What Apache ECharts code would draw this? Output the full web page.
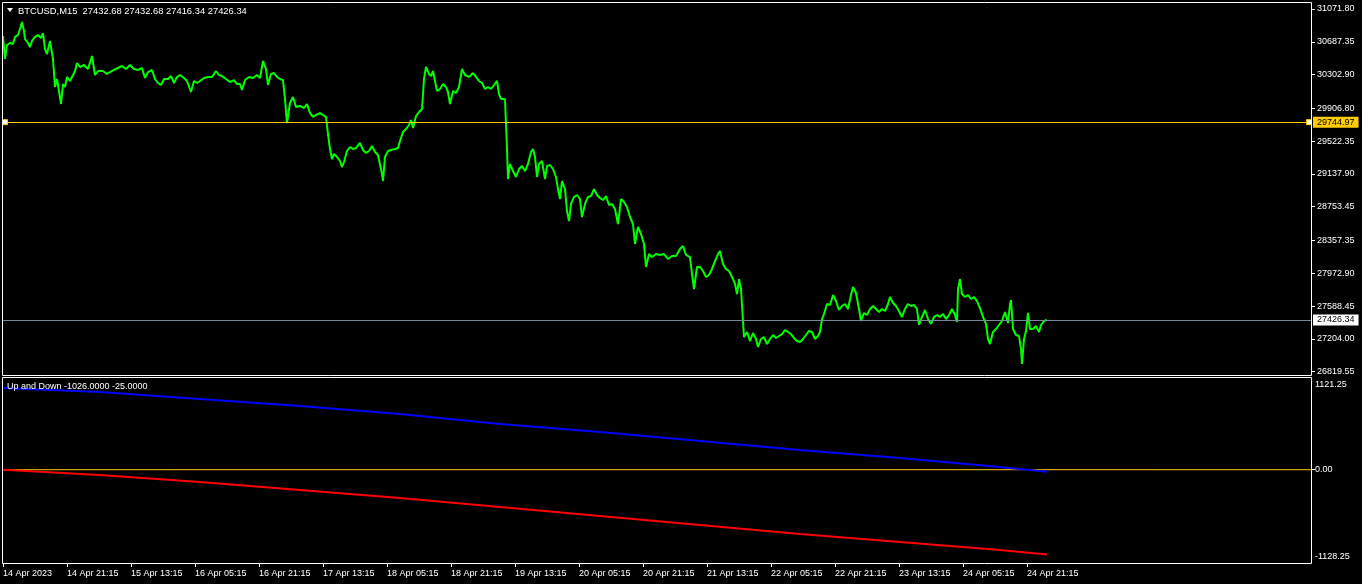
<!DOCTYPE html>
<html>
<head>
<meta charset="utf-8">
<script src="https://cdn.jsdelivr.net/npm/echarts@6/dist/echarts.min.js"></script>
<style>
html,body{margin:0;padding:0;background:#000;}
#c{width:1362px;height:584px;}
</style>
</head>
<body>
<div id="c"></div>
<script>
// ---- data ----
const symbolName = 'BTCUSD,M15';
const lastQuote = [27432.68, 27432.68, 27416.34, 27426.34];
const timeLabels = ['14 Apr 2023','14 Apr 21:15','15 Apr 13:15','16 Apr 05:15','16 Apr 21:15','17 Apr 13:15','18 Apr 05:15','18 Apr 21:15','19 Apr 13:15','20 Apr 05:15','20 Apr 21:15','21 Apr 13:15','22 Apr 05:15','22 Apr 21:15','23 Apr 13:15','24 Apr 05:15','24 Apr 21:15'];
const barsPerLabel = 64;
const priceTicks = [31071.80, 30687.35, 30302.90, 29906.80, 29522.35, 29137.90, 28753.45, 28357.35, 27972.90, 27588.45, 27204.00, 26819.55];
const indTicks = [1121.25, 0, -1128.25];
const hLineLevel = 29744.97;
const bidLevel = 27426.34;
const indLevel = 0;

const barIndex = [0,2,4,7,10,12,15,17,19,21,22,25,27,29,32,35,38,40,42,44,47,50,52,54,56,58,60,62,64,67,70,72,74,77,81,85,89,92,95,100,104,107,111,115,119,123,127,131,135,139,142,145,149,152,155,158,161,165,168,171,174,177,181,184,188,191,194,197,201,205,209,213,216,219,223,227,231,234,237,239,242,246,250,254,257,260,263,265,268,271,274,277,280,282,284,287,290,293,297,301,304,307,310,313,317,320,323,325,327,329,331,334,337,339,341,344,347,350,353,357,360,363,366,369,372,375,377,379,380,382,385,388,392,395,397,400,403,406,408,410,413,416,419,421,423,424,426,428,430,432,434,437,440,443,445,447,450,453,456,459,462,466,470,473,476,479,482,485,488,491,494,496,498,500,502,504,505,507,510,513,516,519,522,525,528,530,532,534,536,539,542,544,547,550,553,555,557,559,562,564,566,568,571,574,577,579,582,585,588,591,594,597,600,603,606,609,612,615,618,621,624,627,630,632,635,638,641,643,646,649,653,657,661,665,669,673,677,680,683,687,689,691,694,697,700,703,706,709,712,715,717,720,723,726,729,732,734,736,738,740,741,744,747,750,753,755,758,761,764,767,770,773,776,779,782,785,788,791,794,797,800,803,806,809,812,815,817,819,821,824,827,830,833,836,839,842,845,848,850,853,856,858,861,864,867,870,873,876,879,882,885,887,890,893,896,899,902,905,908,911,914,916,919,922,925,928,931,934,937,940,943,946,949,952,954,955,957,959,962,965,968,971,974,977,980,983,985,987,990,993,996,999,1002,1005,1007,1008,1010,1013,1016,1018,1019,1021,1023,1025,1027,1030,1033,1036,1038,1041,1044];
const closePrice = [30755,30486,30650,30673,30661,30744,30767,30837,30919,30814,30720,30673,30626,30697,30744,30767,30732,30790,30603,30544,30697,30486,30157,30251,30110,29958,30192,30157,30275,30228,30298,30345,30439,30392,30415,30368,30521,30298,30345,30345,30310,30333,30357,30380,30404,30368,30415,30368,30357,30380,30263,30333,30357,30251,30204,30181,30251,30251,30286,30204,30275,30298,30263,30228,30099,30228,30204,30228,30263,30275,30275,30345,30298,30286,30251,30216,30239,30192,30192,30122,30239,30275,30263,30298,30263,30462,30368,30181,30310,30321,30275,30251,30239,30017,29735,29970,30040,29923,29935,29911,29958,29852,29806,29829,29852,29829,29806,29606,29430,29313,29372,29337,29290,29219,29278,29407,29454,29430,29442,29501,29419,29384,29407,29466,29395,29360,29337,29137,29055,29337,29407,29419,29430,29442,29524,29630,29665,29712,29770,29677,29817,29864,29899,30251,30392,30415,30310,30286,30345,30228,30110,30134,30192,30157,30099,29958,30110,30087,30157,30368,30298,30275,30321,30275,30228,30204,30134,30157,30134,30181,30228,30075,30017,30040,30017,29430,29079,29255,29172,29102,29196,29231,29172,29255,29395,29430,29337,29102,29255,29290,29079,29231,29243,29196,29102,28961,28844,29055,28961,28703,28586,28786,28868,28891,28844,28633,28786,28868,28879,28961,28891,28856,28832,28879,28774,28786,28727,28551,28844,28809,28750,28633,28551,28317,28516,28434,28317,28047,28199,28164,28199,28188,28199,28141,28176,28176,28258,28293,28188,28164,27965,27789,28047,28047,28000,27930,27953,28024,28117,28199,28235,28082,28024,28000,27930,27848,27730,27906,27789,27414,27226,27285,27179,27273,27203,27109,27203,27226,27144,27203,27250,27215,27238,27261,27308,27285,27261,27215,27179,27168,27203,27250,27297,27285,27203,27238,27285,27437,27496,27613,27601,27719,27648,27543,27590,27613,27555,27719,27813,27742,27555,27414,27508,27484,27555,27590,27555,27519,27555,27531,27613,27695,27625,27590,27531,27461,27555,27613,27590,27601,27555,27367,27461,27543,27437,27379,27461,27484,27461,27496,27437,27484,27555,27484,27402,27789,27906,27730,27695,27719,27672,27695,27648,27566,27461,27379,27203,27144,27285,27320,27367,27414,27519,27390,27613,27660,27320,27250,27238,27086,26910,27203,27297,27508,27320,27320,27355,27285,27367,27414,27426];

const indIndex = [0, 97, 197, 297, 397, 497, 597, 697, 797, 897, 997, 1044];
const upLine   = [988, 940, 855, 770, 674, 553, 456, 347, 238, 141, 33, -25];
const downLine = [0, -64, -149, -246, -342, -451, -560, -669, -778, -874, -971, -1026];

// ---- chart ----
const FONT = 'Liberation Sans';
const LEVEL = '#FFCC00';
const X_MAX = 1308;
const chart = echarts.init(document.getElementById('c'), null, {renderer: 'canvas'});
const tickIdx = timeLabels.map((_, i) => i * barsPerLabel);
const pricePairs = barIndex.map((x, i) => [x, closePrice[i]]);
const upPairs = indIndex.map((x, i) => [x, upLine[i]]);
const downPairs = indIndex.map((x, i) => [x, downLine[i]]);
const levelPairs = [[0, indLevel], [X_MAX, indLevel]];

const option = {
  backgroundColor: '#000',
  animation: false,
  textStyle: {fontFamily: FONT},
  grid: [
    {left: 3, top: 3, width: 1308, height: 372},
    {left: 3, top: 377, width: 1308, height: 186}
  ],
  xAxis: [
    {gridIndex: 0, type: 'value', min: 0, max: X_MAX, show: false},
    {gridIndex: 1, type: 'value', min: 0, max: X_MAX, position: 'bottom',
     splitLine: {show: false}, axisLine: {show: false, onZero: false},
     axisTick: {show: true, length: 4, customValues: tickIdx, lineStyle: {color: '#fff'}},
     axisLabel: {customValues: tickIdx, formatter: v => timeLabels[Math.round(v / barsPerLabel)],
                 align: 'left', color: '#fff', fontSize: 9, fontFamily: FONT, margin: 6}}
  ],
  yAxis: [
    {gridIndex: 0, type: 'value', position: 'right', min: 26780.81, max: 31142.14,
     splitLine: {show: false}, axisLine: {show: false, onZero: false},
     axisTick: {show: true, length: 4, customValues: priceTicks, lineStyle: {color: '#fff'}},
     axisLabel: {customValues: priceTicks, formatter: v => v.toFixed(2), color: '#fff',
                 fontSize: 9, fontFamily: FONT, margin: 6}},
    {gridIndex: 1, type: 'value', position: 'right', min: -1128.25, max: 1121.25,
     splitLine: {show: false}, axisLine: {show: false, onZero: false},
     axisTick: {show: true, length: 4, customValues: [indLevel], lineStyle: {color: '#fff'}},
     axisLabel: {customValues: indTicks, color: '#fff', fontSize: 9, fontFamily: FONT, margin: 4,
       formatter: v => {
         const s = v.toFixed(2);
         if (v === indTicks[0]) return '{t|' + s + '}';
         if (v === indTicks[2]) return '{b|' + s + '}';
         return '{m|' + s + '}';
       },
       rich: {
         t: {color: '#fff', fontSize: 9, fontFamily: FONT, padding: [15, 0, 0, 0]},
         b: {color: '#fff', fontSize: 9, fontFamily: FONT, padding: [0, 0, 13, 0]},
         m: {color: '#fff', fontSize: 9, fontFamily: FONT}
       }}}
  ],
  series: [
    {type: 'line', xAxisIndex: 0, yAxisIndex: 0, data: pricePairs, showSymbol: false,
     lineStyle: {color: '#00FF00', width: 2}, clip: false, z: 2},
    {type: 'line', xAxisIndex: 0, yAxisIndex: 0, data: [], z: 5, clip: false,
     markLine: {silent: true, symbol: 'none',
       label: {show: true, position: 'end', distance: 2, fontSize: 9, fontFamily: FONT,
               padding: [1, 4, 1, 4], formatter: p => p.value.toFixed(2)},
       data: [
         {yAxis: hLineLevel, lineStyle: {color: LEVEL, type: 'solid', width: 1},
          label: {backgroundColor: LEVEL, color: '#000'}},
         {yAxis: bidLevel, lineStyle: {color: '#778899', type: 'solid', width: 1},
          label: {backgroundColor: '#FFFFFF', color: '#000'}}
       ]},
     markPoint: {silent: true, symbol: 'rect', symbolSize: 5, label: {show: false},
       itemStyle: {color: '#FFFFFF', borderColor: LEVEL, borderWidth: 1},
       data: [{coord: [2, hLineLevel]}, {coord: [1306, hLineLevel]}]}},
    {type: 'line', xAxisIndex: 1, yAxisIndex: 1, data: levelPairs, showSymbol: false, silent: true,
     lineStyle: {color: LEVEL, width: 1}, itemStyle: {color: LEVEL}, z: 2},
    {type: 'line', xAxisIndex: 1, yAxisIndex: 1, data: downPairs, showSymbol: false,
     lineStyle: {color: '#FF0000', width: 2}, z: 3},
    {type: 'line', xAxisIndex: 1, yAxisIndex: 1, data: upPairs, showSymbol: false,
     lineStyle: {color: '#0000FF', width: 2}, z: 4}
  ],
  graphic: [
    {type: 'rect', silent: true, z: 10, shape: {x: 2.5, y: 2.5, width: 1309, height: 373},
     style: {fill: null, stroke: '#FFFFFF', lineWidth: 1}},
    {type: 'rect', silent: true, z: 10, shape: {x: 2.5, y: 377.5, width: 1309, height: 186},
     style: {fill: null, stroke: '#FFFFFF', lineWidth: 1}},
    {type: 'polygon', silent: true, z: 10, shape: {points: [[7, 8], [13, 8], [10, 12]]},
     style: {fill: '#FFFFFF'}},
    {type: 'text', silent: true, z: 10,
     style: {x: 18, y: 11, text: symbolName + '  ' + lastQuote.map(v => v.toFixed(2)).join(' '),
             fill: '#FFFFFF', font: '9.4px "' + FONT + '"', verticalAlign: 'middle'}},
    {type: 'text', silent: true, z: 10,
     style: {x: 7, y: 387, text: 'Up and Down ' + downLine[downLine.length - 1].toFixed(4) + ' ' + upLine[upLine.length - 1].toFixed(4),
             fill: '#FFFFFF', font: '9px "' + FONT + '"', verticalAlign: 'middle'}}
  ]
};
chart.setOption(option);
</script>
</body>
</html>
